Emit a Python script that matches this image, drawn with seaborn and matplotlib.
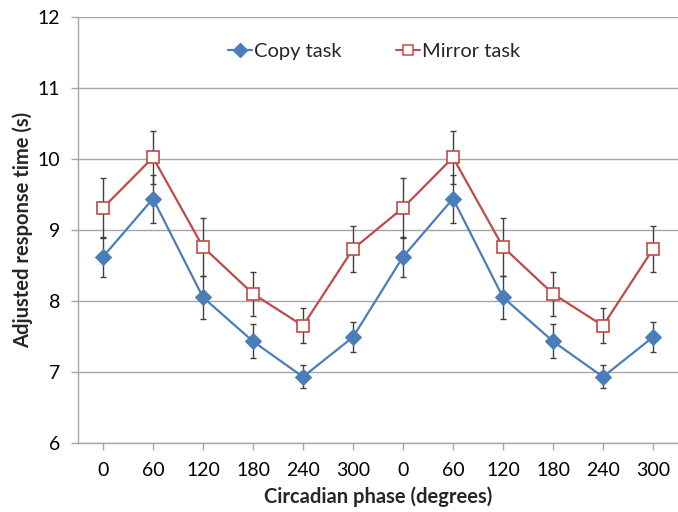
import numpy as np
import pandas as pd
import matplotlib
matplotlib.use('Agg')
import matplotlib.pyplot as plt
import seaborn as sns
from matplotlib.lines import Line2D

# 데이터
phase_labels = ['0', '60', '120', '180', '240', '300', '0', '60', '120', '180', '240', '300']
copy_mean = [8.62, 9.44, 8.05, 7.43, 6.93, 7.49, 8.62, 9.44, 8.05, 7.43, 6.93, 7.49]
copy_err = [0.28, 0.34, 0.30, 0.24, 0.16, 0.21, 0.28, 0.34, 0.30, 0.24, 0.16, 0.21]
mirror_mean = [9.31, 10.02, 8.76, 8.10, 7.65, 8.73, 9.31, 10.02, 8.76, 8.10, 7.65, 8.73]
mirror_err = [0.42, 0.37, 0.41, 0.31, 0.25, 0.33, 0.42, 0.37, 0.41, 0.31, 0.25, 0.33]

pos = np.arange(len(phase_labels))
df = pd.DataFrame({
    'pos': np.concatenate([pos, pos]),
    'rt': copy_mean + mirror_mean,
    'task': ['Copy task'] * len(pos) + ['Mirror task'] * len(pos),
})

sns.set_style('white')
plt.rcParams['font.family'] = ['Lato', 'DejaVu Sans']

fig = plt.figure(figsize=(6.78, 5.12), dpi=100)
ax = fig.add_axes([0.115, 0.135, 0.885, 0.832])

blue = '#4A7EBB'
red = '#BE4B48'

# 오차 막대
ax.errorbar(pos, copy_mean, yerr=copy_err, fmt='none', ecolor='#404040',
            elinewidth=1, capsize=2.5, capthick=1, zorder=2)
ax.errorbar(pos, mirror_mean, yerr=mirror_err, fmt='none', ecolor='#404040',
            elinewidth=1, capsize=2.5, capthick=1, zorder=2)

sns.lineplot(data=df, x='pos', y='rt', hue='task', style='task',
             palette={'Copy task': blue, 'Mirror task': red},
             markers={'Copy task': 'D', 'Mirror task': 's'}, dashes=False,
             linewidth=1.6, ax=ax, zorder=3, legend=False)

# 마커 스타일 조정
for ln in ax.get_lines():
    c = matplotlib.colors.to_hex(ln.get_color()).lower()
    if c == red.lower():
        ln.set_markerfacecolor('white')
        ln.set_markeredgecolor(red)
        ln.set_markersize(8.5)
        ln.set_markeredgewidth(1.2)
    elif c == blue.lower():
        ln.set_markerfacecolor(blue)
        ln.set_markeredgecolor(blue)
        ln.set_markersize(8.5)

handles = [
    Line2D([0], [0], color=blue, marker='D', markersize=7, linewidth=1.6,
           markerfacecolor=blue, markeredgecolor=blue),
    Line2D([0], [0], color=red, marker='s', markersize=6.5, linewidth=1.4,
           markerfacecolor='white', markeredgecolor=red, markeredgewidth=1.1),
]
ax.legend(handles, ['Copy task', 'Mirror task'], loc='center', bbox_to_anchor=(0.494, 0.918),
          ncol=2, frameon=False, fontsize=14.5, handlelength=1.2, handletextpad=0.1,
          columnspacing=2.7)

ax.set_xlim(-0.5, len(pos) - 0.5)
ax.set_ylim(6, 12)
ax.set_yticks(range(6, 13))
ax.set_xticks(pos)
ax.set_xticklabels(phase_labels)
ax.yaxis.grid(True, color='#A6A6A6', linewidth=1)
ax.xaxis.grid(False)
ax.set_axisbelow(True)

for s in ['top', 'right']:
    ax.spines[s].set_visible(False)
for s in ['left', 'bottom']:
    ax.spines[s].set_color('#A6A6A6')
    ax.spines[s].set_linewidth(1)

ax.tick_params(axis='both', labelsize=14, colors='#A6A6A6', labelcolor='black',
               direction='out', length=5, width=1, left=True, bottom=True)
ax.tick_params(axis='x', pad=9)
ax.tick_params(axis='y', pad=8)

ax.set_xlabel('Circadian phase (degrees)', fontsize=14.5, fontweight='bold', labelpad=5)
ax.set_ylabel('Adjusted response time (s)', fontsize=14.5, fontweight='bold', labelpad=3)

plt.savefig('out.png', dpi=100)
